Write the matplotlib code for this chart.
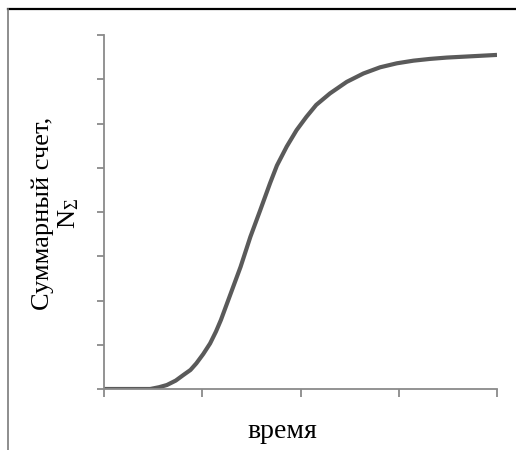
import matplotlib
matplotlib.use("Agg")
import matplotlib.pyplot as plt
from matplotlib.lines import Line2D

# data (time units = tick intervals, count units = tick intervals)
time = [0.0, 0.3, 0.47, 0.56, 0.64, 0.73, 0.81, 0.88, 0.94, 1.01, 1.08, 1.14,
        1.19, 1.24, 1.29, 1.34, 1.39, 1.44, 1.49, 1.54, 1.59, 1.69, 1.76, 1.86,
        1.96, 2.06, 2.16, 2.30, 2.47, 2.64, 2.81, 2.98, 3.15, 3.32, 3.49, 3.66,
        3.83, 4.0]
count = [0.0, 0.0, 0.0, 0.04, 0.09, 0.19, 0.32, 0.43, 0.58, 0.79, 1.03, 1.30,
         1.56, 1.86, 2.16, 2.46, 2.76, 3.10, 3.44, 3.74, 4.04, 4.65, 5.05, 5.48,
         5.85, 6.15, 6.42, 6.68, 6.94, 7.13, 7.27, 7.36, 7.42, 7.46, 7.49, 7.51,
         7.53, 7.55]
xticks = [0, 1, 2, 3, 4]
yticks = [0, 1, 2, 3, 4, 5, 6, 7, 8]
xlabel = 'время'
ylabel = 'Суммарный счет,\n$\\mathrm{N_{\\Sigma}}$'

plt.rcParams['font.family'] = ['Liberation Serif', 'DejaVu Serif']
plt.rcParams['mathtext.fontset'] = 'custom'
plt.rcParams['mathtext.rm'] = 'Liberation Serif'
plt.rcParams['mathtext.it'] = 'Liberation Serif'

W, H = 516, 450
fig = plt.figure(figsize=(W / 100, H / 100), dpi=100)
ax = fig.add_axes([104 / W, 1 - 389 / H, (497 - 104) / W, (389 - 35) / H])

ax.plot(time, count, color='#5a5a5a', lw=3.0, solid_capstyle='butt',
        solid_joinstyle='round')
ax.set_xlim(0, 4)
ax.set_ylim(0, 8)
ax.set_xticks(xticks)
ax.set_yticks(yticks)
ax.set_xticklabels([])
ax.set_yticklabels([])
for s in ['top', 'right']:
    ax.spines[s].set_visible(False)
for s in ['left', 'bottom']:
    ax.spines[s].set_color('#8a8a8a')
    ax.spines[s].set_linewidth(1.3)
ax.tick_params(axis='y', direction='out', length=5, width=1.3, color='#8a8a8a')
ax.tick_params(axis='x', direction='out', length=6, width=1.3, color='#8a8a8a')

fig.text(282 / W, 1 - 438 / H, xlabel, fontsize=20, ha='center', va='baseline')
fig.text(56 / W, 1 - 213 / H, ylabel, fontsize=19, ha='center', va='center',
         rotation=90, multialignment='center', linespacing=1.15)

# outer frame fragments
fig.add_artist(Line2D([8 / W, 1], [1 - 9 / H, 1 - 9 / H], transform=fig.transFigure,
                      color='black', lw=1.6))
fig.add_artist(Line2D([8 / W, 8 / W], [0, 1 - 9 / H], transform=fig.transFigure,
                      color='#7a7a7a', lw=1.2))

fig.savefig('out.png', dpi=100)
